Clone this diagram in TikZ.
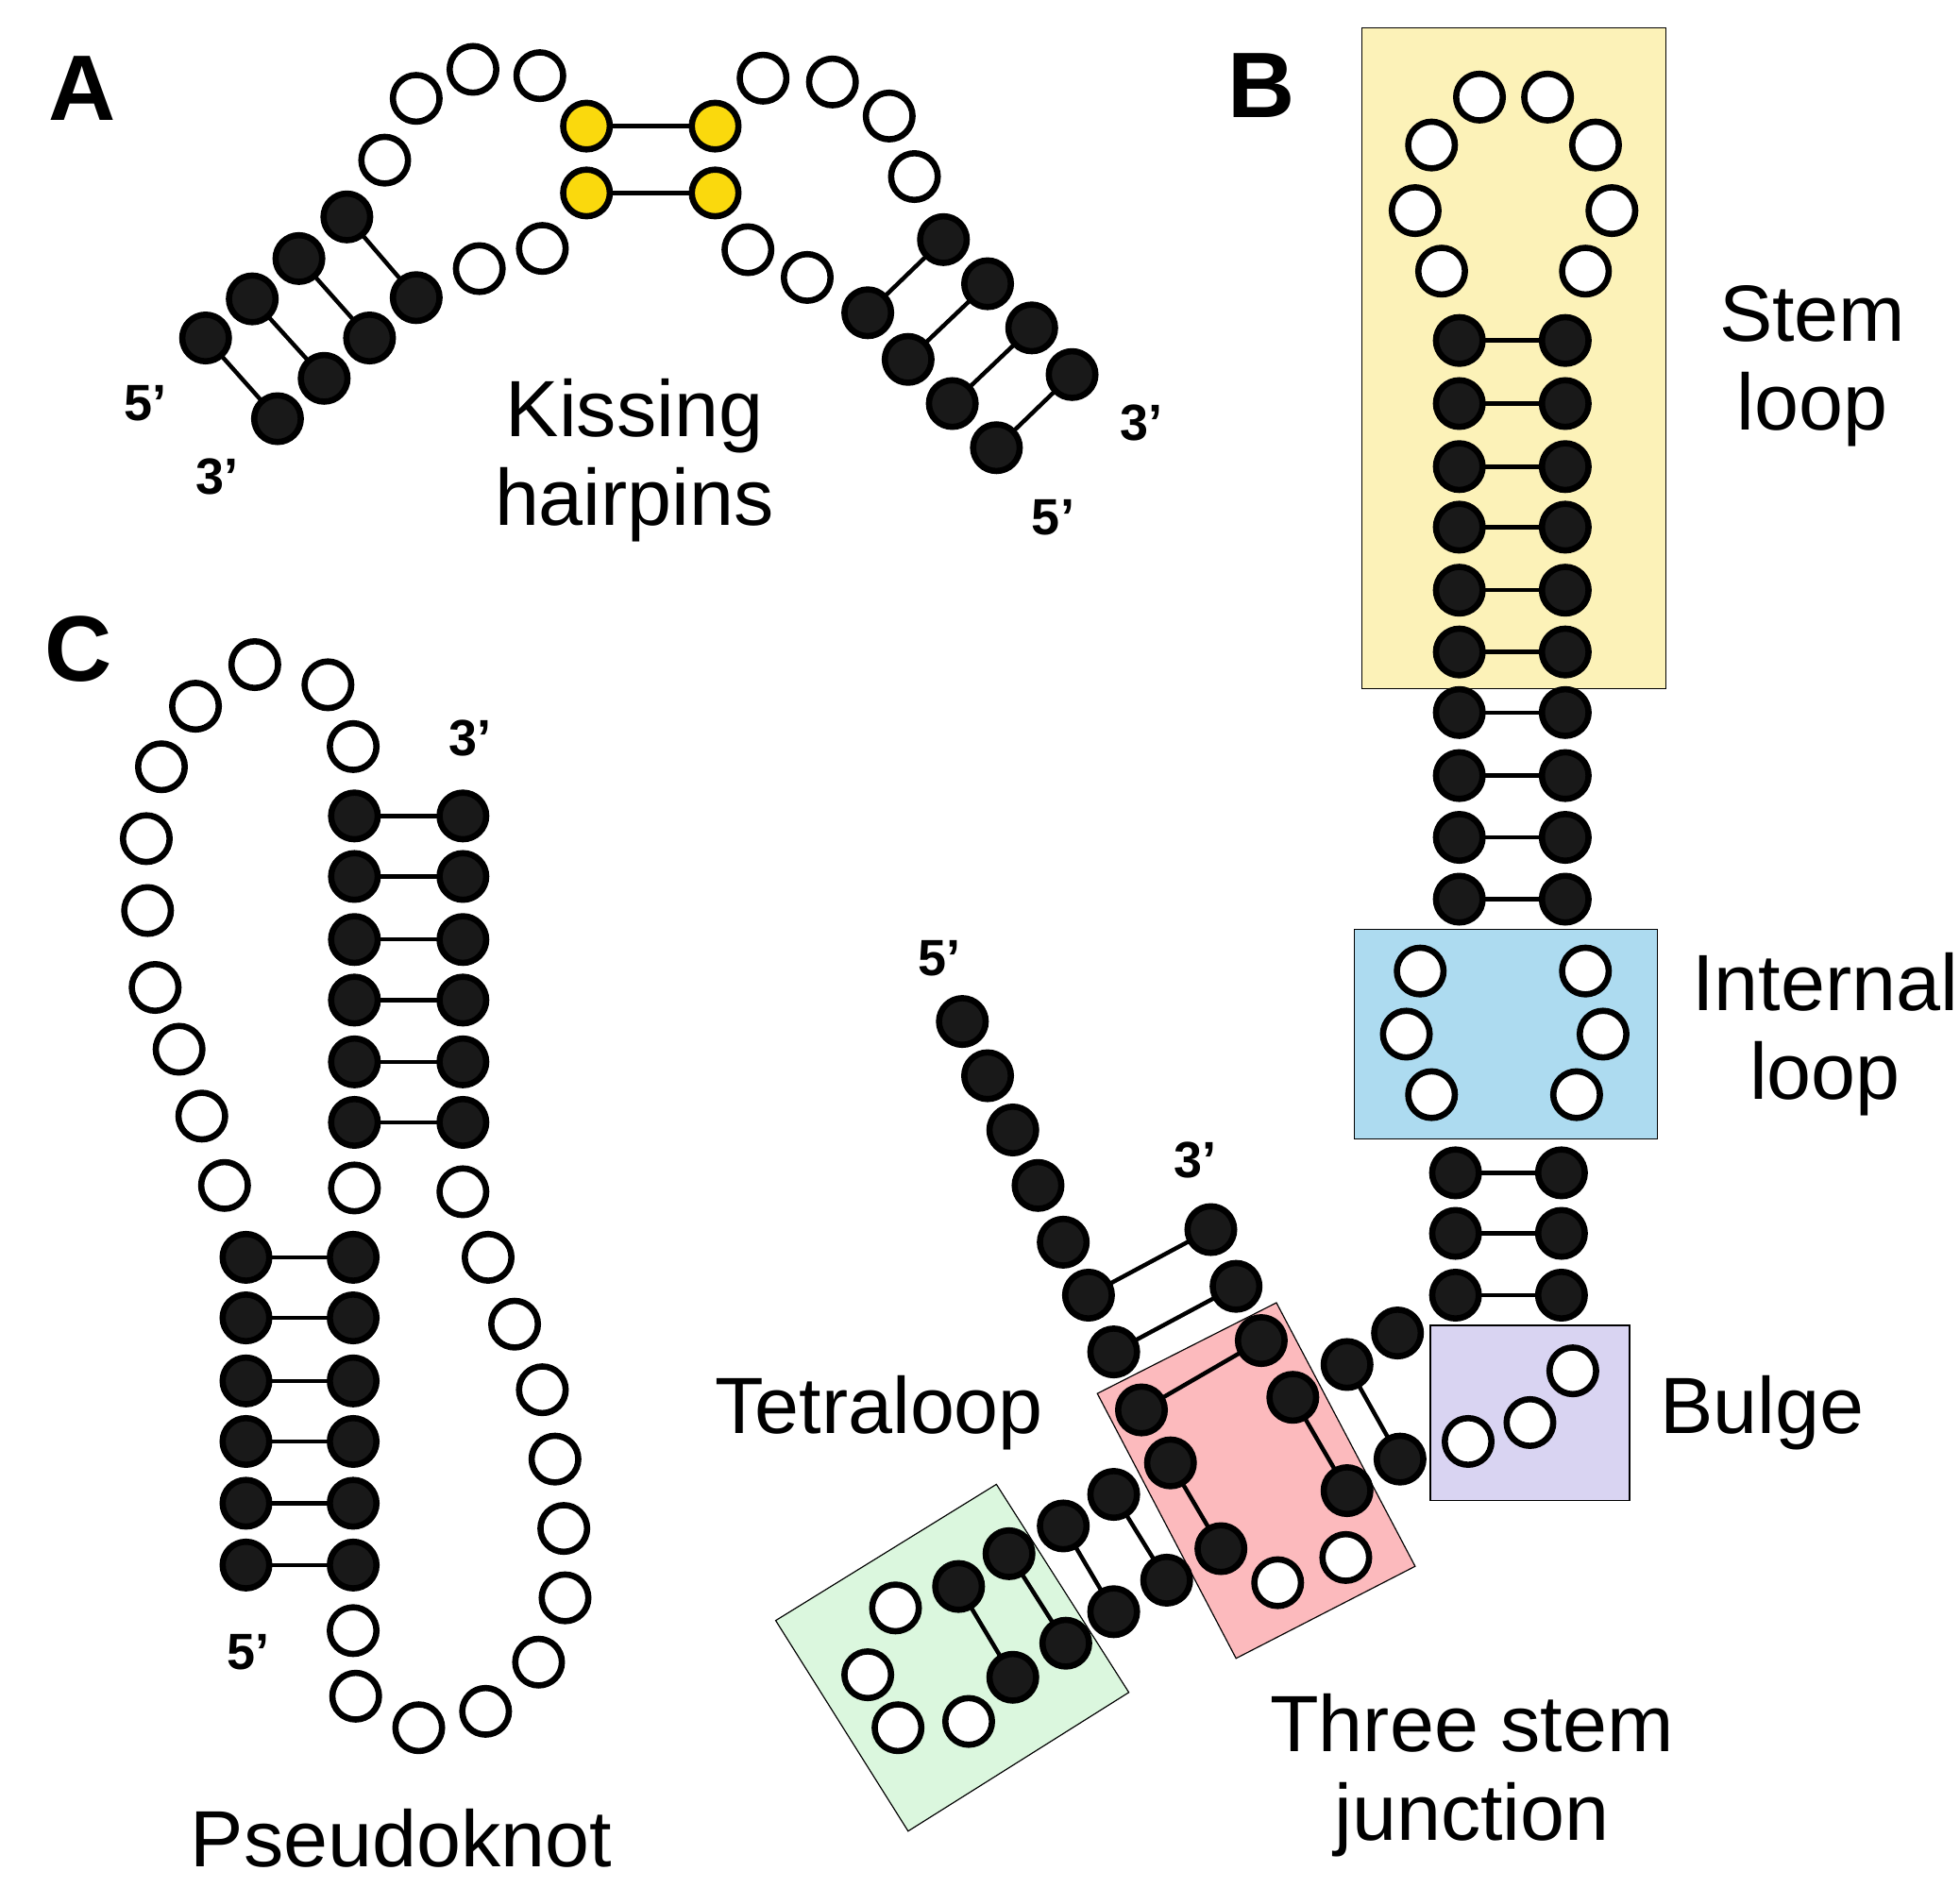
\documentclass[tikz,border=0pt]{standalone}
\usepackage{fontspec}
\setmainfont{Liberation Sans}
\definecolor{bulgec}{rgb}{0.85,0.83,0.95}
\definecolor{yelc}{rgb}{0.99,0.95,0.72}
\definecolor{bluec}{rgb}{0.68,0.86,0.94}
\definecolor{pinkc}{rgb}{0.99,0.73,0.74}
\definecolor{greenc}{rgb}{0.86,0.97,0.87}
\definecolor{goldc}{rgb}{0.98,0.85,0.05}
\begin{document}
\begin{tikzpicture}[x=0.02cm,y=-0.02cm,
  f/.style={circle,draw=black,fill=black!90,line width=2.8pt,minimum size=0.74cm,inner sep=0pt},
  o/.style={circle,draw=black,fill=white,line width=2.8pt,minimum size=0.74cm,inner sep=0pt},
  yl/.style={circle,draw=black,fill=goldc,line width=2.8pt,minimum size=0.74cm,inner sep=0pt},
  bp/.style={line width=1.9pt,shorten >=-2pt,shorten <=-2pt},
  lab/.style={font=\fontsize{36}{40}\selectfont,align=center,inner sep=0pt},
  pl/.style={font=\fontsize{42}{46}\selectfont\bfseries,inner sep=0pt},
  end/.style={font=\fontsize{23}{26}\selectfont\bfseries,inner sep=0pt},
  box/.style={draw=black,line width=0.5pt}]
\useasboundingbox (0,0) rectangle (1554,1497);
% boxes
\filldraw[box,fill=yelc] (1080,22) rectangle (1321,546);
\filldraw[box,fill=bluec] (1074,737) rectangle (1314,903);
\filldraw[box,fill=bulgec] (1134,1051) rectangle (1292,1190);
\filldraw[box,fill=pinkc] (870,1105) -- (1012,1033) -- (1122,1242) -- (980,1315) -- cycle;
\filldraw[box,fill=greenc] (615,1285) -- (790,1177) -- (895,1342) -- (720,1452) -- cycle;
% base pairs
\foreach \ax/\ay/\bx/\by [count=\i] in {163/268/220/332,200/237/257/300,237/205/293/268,275/172/330/236,
  748/190/688/248,783/225/720/285,818/260/755/320,850/297/790/355,
  863/1027/960/975,883/1072/980/1020,905/1118/1000/1063,
  928/1160/968/1228,883/1185/925/1253,843/1210/883/1278,800/1232/845/1303,760/1258/803/1330,
  1025/1108/1068/1182,1068/1082/1110/1157}{
  \node[f] (pa\i) at (\ax,\ay) {}; \node[f] (pb\i) at (\bx,\by) {};
  \draw[bp] (pa\i) -- (pb\i);}
\foreach \y [count=\i] in {270,320,370,418,468,517,565,615,664,713}{
  \node[f] (sl\i) at (1157,\y) {}; \node[f] (sr\i) at (1241,\y) {};
  \draw[bp] (sl\i) -- (sr\i);}
\foreach \y [count=\i] in {930,978,1027}{
  \node[f] (tl\i) at (1154,\y) {}; \node[f] (tr\i) at (1238,\y) {};
  \draw[bp] (tl\i) -- (tr\i);}
\foreach \y [count=\i] in {647,695,745,793,842,890}{
  \node[f] (ul\i) at (281,\y) {}; \node[f] (ur\i) at (367,\y) {};
  \draw[bp] (ul\i) -- (ur\i);}
\foreach \y [count=\i] in {997,1045,1095,1143,1192,1241}{
  \node[f] (vl\i) at (195,\y) {}; \node[f] (vr\i) at (280,\y) {};
  \draw[bp] (vl\i) -- (vr\i);}
% yellow kissing pairs
\node[yl] (y1) at (465,100) {}; \node[yl] (y2) at (567,100) {};
\node[yl] (y3) at (465,153) {}; \node[yl] (y4) at (567,153) {};
\draw[bp] (y1) -- (y2); \draw[bp] (y3) -- (y4);
% single filled
\foreach \x/\y [count=\i] in {763/810,783/853,803/896,823/940,843/985,1108/1057}{
  \node[f] (s\i) at (\x,\y) {};}
% open circles
\foreach \x/\y [count=\i] in {305/127,330/78,375/55,428/60,430/197,380/213,
  605/62,660/65,705/92,725/140,593/198,640/220,
  1143/215,1122/167,1135/115,1173/77,1227/77,1265/115,1278/167,1257/215,
  1126/770,1115/820,1135/868,1257/770,1271/820,1250/868,
  1247/1087,1213/1128,1164/1143,
  710/1275,688/1328,712/1370,768/1365,1013/1255,1067/1235,
  178/940,160/885,142/832,123/783,117/722,116/665,128/608,155/560,202/527,260/543,280/592,
  281/942,367/945,387/997,408/1050,430/1102,440/1157,447/1212,448/1267,427/1318,385/1357,332/1370,282/1345,280/1293}{
  \node[o] (o\i) at (\x,\y) {};}
% labels
\node[pl] (la) at (65,70) {A};
\node[pl] (lb) at (1000,68) {B};
\node[pl] (lc) at (62,515) {C};
\node[end] (e1) at (115,320) {5’};
\node[end] (e2) at (172,378) {3’};
\node[end] (e3) at (905,335) {3’};
\node[end] (e4) at (835,410) {5’};
\node[end] (e5) at (373,585) {3’};
\node[end] (e6) at (197,1310) {5’};
\node[end] (e7) at (745,760) {5’};
\node[end] (e8) at (948,920) {3’};
\node[lab] (t1) at (503,365) {Kissing\\hairpins};
\node[lab] (t2) at (1437,290) {Stem\\loop};
\node[lab] (t3) at (1447,820) {Internal\\loop};
\node[lab] (t4) at (1397,1120) {Bulge};
\node[lab] (t5) at (697,1120) {Tetraloop};
\node[lab] (t6) at (1167,1408) {Three stem\\junction};
\node[lab] (t7) at (318,1458) {Pseudoknot};
\end{tikzpicture}
\end{document}
